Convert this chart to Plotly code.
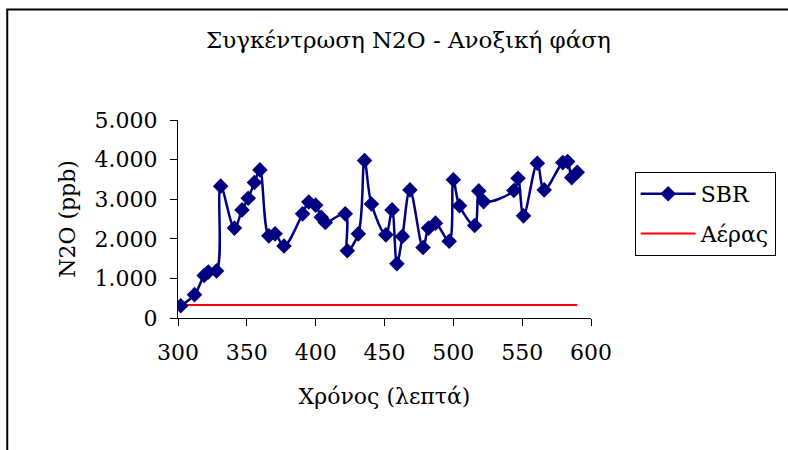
import plotly.graph_objects as go

# Data
time_min = [302, 312, 319, 322, 328, 331, 341, 346.5, 351, 355.5, 359.5, 366, 370.5, 377,
            390.5, 395, 400, 404, 407, 421.5, 423, 431, 435.5, 440.5, 451, 455.5, 459, 463,
            468.5, 478, 482, 487, 497, 500, 504.5, 515.5, 518.5, 522, 544, 547, 551, 561,
            566, 579.5, 583, 586, 590]
sbr_n2o = [310, 590, 1075, 1160, 1190, 3330, 2270, 2730, 3025, 3420, 3740, 2075, 2125, 1820,
           2630, 2930, 2850, 2545, 2410, 2630, 1700, 2125, 3975, 2880, 2100, 2730, 1370, 2060,
           3235, 1780, 2270, 2395, 1940, 3490, 2835, 2336, 3210, 2940, 3218, 3530, 2580, 3908,
           3235, 3924, 3950, 3545, 3680]
air_time = [302, 590]
air_n2o = [330, 330]

x_tick_vals = [300, 350, 400, 450, 500, 550, 600]
y_tick_vals = [0, 1000, 2000, 3000, 4000, 5000]
y_tick_text = ["0", "1.000", "2.000", "3.000", "4.000", "5.000"]

FONT = "DejaVu Serif"

fig = go.Figure()
fig.add_trace(go.Scatter(
    x=air_time, y=air_n2o, mode="lines", name="Αέρας",
    line=dict(color="#ff0000", width=2), legendrank=2, legendgroup="air",
))
fig.add_trace(go.Scatter(
    x=time_min, y=sbr_n2o, mode="lines+markers", name="SBR",
    line=dict(color="#000080", width=2.5, shape="spline", smoothing=1.0),
    marker=dict(symbol="diamond", size=12, color="#000080"),
    legendrank=1, legendgroup="sbr",
))

L, R, T, B = 178, 788 - 594, 120, 450 - 318
W, H = 788 - L - R, 450 - T - B

def px_x(p):
    return (p - L) / W

def px_y(p):
    return (450 - B - p) / H

fig.update_layout(
    width=788, height=450,
    margin=dict(l=L, r=R, t=T, b=B),
    paper_bgcolor="white", plot_bgcolor="white",
    font=dict(family=FONT, color="black", size=22),
    title=dict(text="Συγκέντρωση N2O - Ανοξική φάση", x=px_x(410), xanchor="center",
               xref="paper", y=1 - 40 / 450, yanchor="middle",
               font=dict(family=FONT, size=23, color="black")),
    xaxis=dict(range=[300, 600], tickvals=x_tick_vals, ticks="outside", ticklen=7,
               tickcolor="black", showline=True, linecolor="black", linewidth=1,
               showgrid=False, zeroline=False, ticklabelstandoff=8,
               tickfont=dict(family=FONT, size=22),
               title=dict(text="Χρόνος (λεπτά)", font=dict(family=FONT, size=22), standoff=24)),
    yaxis=dict(range=[0, 5000], tickvals=y_tick_vals, ticktext=y_tick_text, ticks="outside",
               ticklen=7, tickcolor="black", showline=True, linecolor="black", linewidth=1,
               showgrid=False, zeroline=False, ticklabelstandoff=8,
               tickfont=dict(family=FONT, size=22),
               title=dict(text="N2O (ppb)", font=dict(family=FONT, size=22), standoff=12)),
    legend=dict(x=px_x(638), y=px_y(172), xanchor="left", yanchor="top",
                bordercolor="black", borderwidth=1, bgcolor="white",
                font=dict(family=FONT, size=22), tracegroupgap=8,
                itemwidth=55),
    shapes=[dict(type="rect", xref="paper", yref="paper",
                 x0=px_x(6), x1=px_x(820), y0=px_y(480), y1=px_y(9.5),
                 line=dict(color="black", width=2), fillcolor="rgba(0,0,0,0)", layer="below")],
)

fig.write_html("out.html")
